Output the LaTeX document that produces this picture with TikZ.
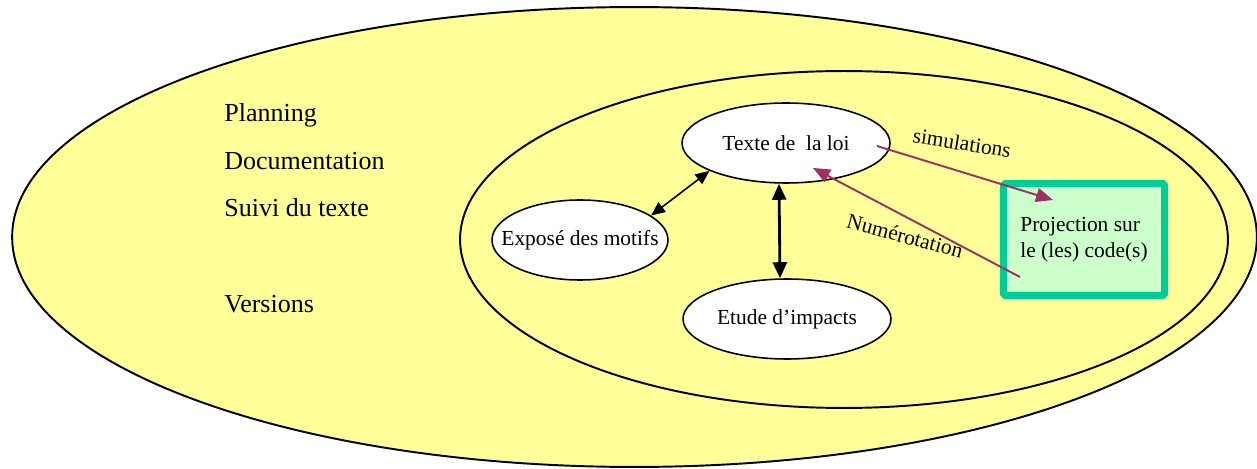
\documentclass[tikz,border=0pt]{standalone}
\usepackage{fontspec}
\setmainfont{Liberation Serif}
\usetikzlibrary{shapes.geometric,arrows.meta,calc}
\definecolor{champ}{HTML}{FFFF99}
\definecolor{cadre}{HTML}{00CC99}
\definecolor{fond}{HTML}{CCFFCC}
\definecolor{prune}{HTML}{993366}

\begin{document}
\begin{tikzpicture}[x=0.02cm,y=-0.02cm,
    every node/.style = {font=\fontsize{12.2}{14.6}\selectfont},
    zone/.style  = {line width=1.1pt, fill=champ},
    bulle/.style = {shape=ellipse, draw, line width=0.9pt, fill=white,
      inner sep=0pt, minimum height=1.6cm},
    liste/.style = {anchor=base west, inner sep=0pt,
      font=\fontsize{14.8}{17}\selectfont},
    lien/.style  = {prune, line width=1.1pt,
      -{Triangle[length=0.34cm,width=0.28cm]}},
    fleche/.style = {line width=0.9pt,
      {Triangle[length=0.28cm,width=0.24cm]}-{Triangle[length=0.28cm,width=0.24cm]}},
    grosse/.style = {line width=1.6pt,
      {Triangle[length=0.32cm,width=0.28cm]}-{Triangle[length=0.32cm,width=0.28cm]}}]
  \useasboundingbox (0,0) rectangle (1257,469);

  % les deux zones
  \draw[zone] (634.5,237) ellipse [x radius=12.45cm, y radius=4.6cm];
  \draw[zone] (844,239.5) ellipse [x radius=7.68cm, y radius=3.37cm];

  % suivi, a gauche
  \node[liste] (plan) at (224,122) {Planning};
  \node[liste] (doc)  at (224,170) {Documentation};
  \node[liste] (suivi) at (224,217) {Suivi du texte};
  \node[liste] (vers) at (224,313) {Versions};

  % les bulles
  \node[bulle, minimum width=4.16cm, label=center:{Texte de \ la loi}] (loi) at (786,143) {};
  \node[bulle, minimum width=3.52cm, label=center:{Exposé des motifs}] (motifs) at (580,240) {};
  \node[bulle, minimum width=4.16cm, label=center:{Etude d'impacts}] (impacts) at (787,319) {};

  % le cadre vert
  \node[draw=cadre, fill=fond, line width=0.14cm, rounded corners=1pt,
    minimum width=3.22cm, minimum height=2.24cm, inner sep=0pt, align=left]
    (proj) at (1084,239.5) {Projection sur\\le (les) code(s)};

  \draw[fleche] (motifs.19) -- (loi.200);
  \draw[grosse] ([xshift=-0.14cm]loi.south) -- ([xshift=-0.14cm]impacts.north);

  \coordinate (simA) at ($(loi.center)+(91,3)$);
  \coordinate (simB) at ($(proj.center)+(-31,-39.5)$);
  \coordinate (numA) at ($(proj.center)+(-64,37.5)$);
  \coordinate (numB) at ($(loi.center)+(27,25)$);
  \draw[lien] (simA) -- (simB);
  \draw[lien] (numA) -- (numB);

  \node[rotate=-9]  (simu)   at (962,143) {simulations};
  \node[rotate=-15] (numero) at (905,236) {Numérotation};
\end{tikzpicture}
\end{document}
